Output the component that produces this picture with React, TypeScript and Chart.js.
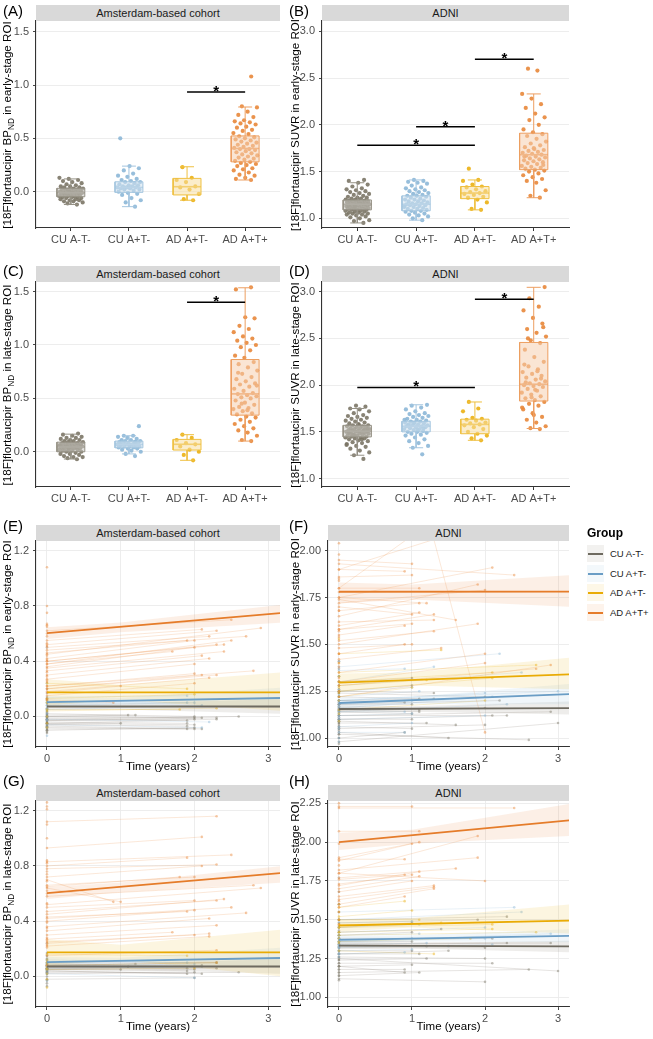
import React, { useEffect, useRef } from "react";
import { Chart, registerables } from "chart.js";

Chart.register(...registerables);
const FONT = '"Liberation Sans", Arial, Helvetica, sans-serif';
Chart.defaults.font.family = FONT;

// ---------------- categories & colours ----------------
const GROUPS = ["CU A-T-", "CU A+T-", "AD A+T-", "AD A+T+"];
const GROUP_COLORS = ["#7b7566", "#8cb7d7", "#ebb012", "#e8873a"];
const FIT_COLORS = ["#6e6a60", "#6a9dc5", "#e9ab05", "#e57c2a"];
const BOX_X_TICKS = [1, 2, 3, 4];
const TIME_TICKS = [0, 1, 2, 3];

// ---------------- (A) Amsterdam early-stage BPND ----------------
const A_CU_NEG = [-0.12, -0.11, -0.1, -0.09, -0.09, -0.08, -0.08, -0.07, -0.07, -0.06, -0.06, -0.05, -0.05, -0.05, -0.04, -0.04, -0.04, -0.03, -0.03, -0.03, -0.02, -0.02, -0.02, -0.01, -0.01, -0.01, -0.01, 0.0, 0.0, 0.0, 0.01, 0.01, 0.01, 0.02, 0.02, 0.02, 0.03, 0.03, 0.04, 0.04, 0.05, 0.05, 0.06, 0.07, 0.08, 0.09, 0.1, 0.11, 0.12, 0.13];
const A_CU_POS = [-0.14, -0.1, -0.08, -0.06, -0.03, -0.02, -0.01, 0.0, 0.01, 0.02, 0.02, 0.03, 0.03, 0.04, 0.04, 0.04, 0.05, 0.05, 0.06, 0.06, 0.07, 0.08, 0.09, 0.09, 0.1, 0.11, 0.12, 0.14, 0.15, 0.17, 0.2, 0.22, 0.24, 0.5];
const A_AD_NEG = [-0.08, -0.07, -0.02, 0.02, 0.04, 0.05, 0.09, 0.11, 0.13, 0.23];
const A_AD_POS = [1.08, 0.8, 0.79, 0.75, 0.72, 0.7, 0.67, 0.66, 0.65, 0.64, 0.63, 0.61, 0.6, 0.58, 0.57, 0.55, 0.54, 0.52, 0.51, 0.5, 0.49, 0.48, 0.47, 0.46, 0.45, 0.44, 0.43, 0.42, 0.41, 0.4, 0.4, 0.39, 0.38, 0.37, 0.36, 0.35, 0.34, 0.33, 0.32, 0.31, 0.3, 0.29, 0.28, 0.27, 0.26, 0.25, 0.24, 0.22, 0.21, 0.2, 0.18, 0.16, 0.15, 0.13, 0.12, 0.11];
// [whisker low, q1, median, q3, whisker high]
const A_BOX = [[-0.12, -0.047, -0.01, 0.032, 0.12], [-0.14, -0.006, 0.04, 0.093, 0.24], [-0.08, -0.03, 0.047, 0.125, 0.234], [0.11, 0.28, 0.405, 0.523, 0.794]];
const A_SIG = [[3, 4, 0.935]];
const A_Y_TICKS = [0, 0.5, 1, 1.5];

// ---------------- (B) ADNI early-stage SUVR ----------------
const B_CU_NEG = [0.95, 0.97, 0.98, 1.0, 1.01, 1.02, 1.03, 1.04, 1.04, 1.05, 1.05, 1.06, 1.06, 1.07, 1.07, 1.08, 1.08, 1.09, 1.09, 1.09, 1.1, 1.1, 1.1, 1.11, 1.11, 1.12, 1.12, 1.12, 1.13, 1.13, 1.13, 1.14, 1.14, 1.14, 1.15, 1.15, 1.15, 1.16, 1.16, 1.16, 1.17, 1.17, 1.17, 1.18, 1.18, 1.18, 1.19, 1.19, 1.2, 1.2, 1.21, 1.21, 1.22, 1.22, 1.23, 1.24, 1.25, 1.26, 1.27, 1.28, 1.29, 1.3, 1.31, 1.32, 1.34, 1.36, 1.38, 1.4, 1.41, 1.12];
const B_CU_POS = [0.98, 1.0, 1.02, 1.03, 1.04, 1.05, 1.06, 1.07, 1.08, 1.08, 1.09, 1.1, 1.1, 1.11, 1.12, 1.12, 1.13, 1.14, 1.14, 1.15, 1.15, 1.16, 1.16, 1.17, 1.18, 1.18, 1.19, 1.2, 1.2, 1.21, 1.22, 1.23, 1.24, 1.24, 1.25, 1.26, 1.27, 1.28, 1.29, 1.3, 1.31, 1.32, 1.33, 1.35, 1.37, 1.38, 1.39, 1.4, 1.41, 1.13];
const B_AD_NEG = [1.09, 1.1, 1.17, 1.2, 1.22, 1.23, 1.25, 1.26, 1.27, 1.28, 1.29, 1.31, 1.33, 1.34, 1.36, 1.4, 1.41, 1.53];
const B_AD_POS = [1.22, 1.24, 1.3, 1.38, 1.4, 1.42, 1.44, 1.46, 1.48, 1.5, 1.51, 1.52, 1.53, 1.54, 1.55, 1.56, 1.58, 1.59, 1.6, 1.61, 1.62, 1.63, 1.64, 1.65, 1.66, 1.67, 1.68, 1.69, 1.7, 1.71, 1.72, 1.73, 1.74, 1.76, 1.78, 1.8, 1.82, 1.85, 1.88, 1.9, 1.92, 1.95, 2.0, 2.05, 2.08, 2.12, 2.18, 2.22, 2.28, 2.33, 2.58, 2.6, 1.57, 1.75, 1.66];
const B_BOX = [[0.95, 1.09, 1.15, 1.196, 1.38], [0.98, 1.08, 1.15, 1.24, 1.41], [1.09, 1.21, 1.27, 1.34, 1.41], [1.22, 1.52, 1.68, 1.91, 2.33]];
const B_SIG = [[1, 3, 1.78], [2, 3, 1.98], [3, 4, 2.7]];
const B_Y_TICKS = [1, 1.5, 2, 2.5, 3];

// ---------------- (C) Amsterdam late-stage BPND ----------------
const C_CU_NEG = [-0.07, -0.06, -0.05, -0.05, -0.04, -0.03, -0.02, -0.02, -0.01, 0.0, 0.0, 0.01, 0.01, 0.02, 0.02, 0.02, 0.03, 0.03, 0.03, 0.04, 0.04, 0.04, 0.05, 0.05, 0.05, 0.05, 0.06, 0.06, 0.06, 0.07, 0.07, 0.07, 0.08, 0.08, 0.08, 0.09, 0.09, 0.1, 0.1, 0.11, 0.11, 0.12, 0.13, 0.13, 0.14, 0.15, 0.16, 0.17, 0.03, 0.06];
const C_CU_POS = [-0.04, -0.02, 0.0, 0.01, 0.02, 0.03, 0.03, 0.04, 0.04, 0.05, 0.05, 0.06, 0.06, 0.06, 0.07, 0.07, 0.07, 0.08, 0.08, 0.08, 0.09, 0.09, 0.1, 0.1, 0.11, 0.11, 0.12, 0.13, 0.14, 0.15, 0.15, 0.24, 0.05, 0.07, 0.09];
const C_AD_NEG = [-0.08, -0.03, 0.0, 0.02, 0.05, 0.07, 0.08, 0.11, 0.13, 0.16];
const C_AD_POS = [0.1, 0.11, 0.15, 0.18, 0.2, 0.22, 0.24, 0.26, 0.28, 0.3, 0.32, 0.33, 0.35, 0.36, 0.38, 0.4, 0.41, 0.42, 0.44, 0.46, 0.48, 0.5, 0.51, 0.52, 0.53, 0.54, 0.55, 0.57, 0.59, 0.61, 0.63, 0.64, 0.66, 0.68, 0.7, 0.73, 0.76, 0.79, 0.82, 0.84, 0.88, 0.9, 0.95, 0.98, 1.0, 1.02, 1.04, 1.06, 1.08, 1.12, 1.15, 1.18, 1.25, 1.26, 1.52, 1.54, 0.45, 0.62, 0.39, 0.74];
const C_BOX = [[-0.068, 0.0, 0.045, 0.09, 0.165], [-0.02, 0.037, 0.069, 0.1, 0.15], [-0.08, 0.016, 0.07, 0.116, 0.16], [0.1, 0.343, 0.542, 0.864, 1.536]];
const C_SIG = [[3, 4, 1.4]];
const C_Y_TICKS = [0, 0.5, 1, 1.5];

// ---------------- (D) ADNI late-stage SUVR ----------------
const D_CU_NEG = [1.21, 1.25, 1.28, 1.3, 1.32, 1.34, 1.35, 1.37, 1.38, 1.39, 1.4, 1.41, 1.42, 1.43, 1.43, 1.44, 1.44, 1.45, 1.45, 1.46, 1.46, 1.47, 1.47, 1.48, 1.48, 1.49, 1.49, 1.5, 1.5, 1.5, 1.51, 1.51, 1.51, 1.52, 1.52, 1.53, 1.53, 1.54, 1.54, 1.55, 1.55, 1.56, 1.56, 1.57, 1.57, 1.58, 1.59, 1.6, 1.61, 1.62, 1.63, 1.64, 1.65, 1.66, 1.67, 1.68, 1.7, 1.72, 1.74, 1.75, 1.77, 1.78, 1.36, 1.42, 1.47, 1.53, 1.58, 1.49, 1.52, 1.46];
const D_CU_POS = [1.26, 1.33, 1.35, 1.38, 1.4, 1.42, 1.44, 1.46, 1.47, 1.48, 1.49, 1.5, 1.5, 1.51, 1.52, 1.53, 1.53, 1.54, 1.55, 1.55, 1.56, 1.56, 1.57, 1.57, 1.58, 1.58, 1.59, 1.6, 1.6, 1.61, 1.61, 1.62, 1.63, 1.64, 1.65, 1.66, 1.67, 1.68, 1.69, 1.7, 1.72, 1.74, 1.76, 1.78, 1.79, 1.52, 1.57, 1.54, 1.59, 1.63];
const D_AD_NEG = [1.41, 1.43, 1.46, 1.48, 1.5, 1.53, 1.55, 1.57, 1.58, 1.59, 1.6, 1.62, 1.63, 1.64, 1.65, 1.72, 1.75, 1.82];
const D_AD_POS = [1.53, 1.54, 1.56, 1.6, 1.63, 1.66, 1.7, 1.74, 1.78, 1.8, 1.82, 1.84, 1.86, 1.88, 1.9, 1.92, 1.94, 1.96, 1.98, 1.99, 2.0, 2.01, 2.02, 2.04, 2.06, 2.08, 2.1, 2.12, 2.14, 2.17, 2.2, 2.25, 2.3, 2.38, 2.45, 2.48, 2.52, 2.56, 2.6, 2.66, 2.72, 2.8, 2.84, 2.93, 3.05, 1.95, 2.03, 2.07, 1.87, 1.76, 2.15, 2.5, 2.62, 1.68, 2.22];
const D_BOX = [[1.25, 1.446, 1.507, 1.57, 1.75], [1.33, 1.5, 1.56, 1.614, 1.79], [1.41, 1.48, 1.58, 1.636, 1.82], [1.536, 1.83, 2.01, 2.457, 3.047]];
const D_SIG = [[1, 3, 1.975], [3, 4, 2.92]];
const D_Y_TICKS = [1, 1.5, 2, 2.5, 3];

// ---------------- longitudinal panels ----------------
// each subject: [baseline value, t1, value1, t2, value2, ...]
const FIT_T = [0, 3.2];
const BAND_T = [0, 1.0, 3.2];

// (E) Amsterdam early-stage BPND
const E_TR_CU_NEG = [[-0.02, 1.9, -0.03], [-0.04, 1.9, -0.05], [-0.06, 1.9, -0.07], [-0.08, 2.0, -0.09], [-0.05, 2.0, -0.06], [-0.03, 2.0, -0.02], [-0.01, 2.0, -0.01], [0.0, 2.1, -0.01], [-0.07, 2.1, -0.09], [-0.03, 2.3, -0.01], [-0.05, 2.3, -0.02], [0.01, 1.1, 0.01], [0.0, 1.2, 0.01], [-0.06, 1.0, -0.05], [-0.02, 2.6, 0.0], [-0.09, 1.9, -0.09], [0.02, 2.0, 0.0], [-0.1, 2.0, -0.08], [0.13], [0.12], [0.1], [0.08], [0.06], [0.05], [0.04], [0.03], [0.02], [0.01], [0.0], [-0.01], [-0.02], [-0.04], [-0.05], [-0.07], [-0.08], [-0.1], [-0.11], [-0.12]];
const E_TR_CU_POS = [[0.14, 1.9, 0.15], [0.1, 1.9, 0.1], [0.08, 2.0, 0.1], [0.05, 2.1, 0.08], [-0.02, 2.2, -0.04], [-0.06, 2.1, -0.08], [0.5], [0.24], [0.2], [0.17], [0.12], [0.1], [0.06], [0.04], [0.02], [0.0], [-0.03], [-0.08], [-0.14]];
const E_TR_AD_NEG = [[0.24, 1.9, 0.2], [0.13, 2.0, 0.16], [0.05, 1.8, 0.05], [0.04, 2.3, 0.06], [0.12], [0.1], [0.0], [-0.05], [-0.08]];
const E_TR_AD_POS = [[0.62, 2.5, 0.7], [0.55, 2.1, 0.63], [0.52, 2.3, 0.62], [0.5, 2.2, 0.58], [0.48, 2.7, 0.58], [0.45, 2.9, 0.64], [0.46, 1.9, 0.55], [0.42, 2.0, 0.55], [0.4, 2.3, 0.52], [0.4, 2.4, 0.52], [0.38, 2.5, 0.55], [0.38, 1.7, 0.47], [0.36, 2.0, 0.5], [0.35, 2.4, 0.47], [0.33, 2.1, 0.44], [0.3, 2.2, 0.42], [0.27, 2.0, 0.38], [0.22, 2.8, 0.33], [0.22, 2.0, 0.31], [0.2, 2.3, 0.3], [0.18, 2.2, 0.28], [0.2, 2.1, 0.3], [0.15, 2.0, 0.24], [0.17, 1.0, 0.22], [0.12, 0.9, 0.1], [1.08], [0.8], [0.75], [0.67], [0.66], [0.65], [0.6], [0.58], [0.53], [0.51], [0.44], [0.41], [0.32], [0.29], [0.26], [0.25], [0.13]];
const E_FIT = [[0.072, 0.072], [0.104, 0.134], [0.174, 0.174], [0.603, 0.75]];
const E_BAND_LO = [[0.045, 0.05, 0.02], [0.07, 0.085, 0.06], [0.08, 0.12, 0.04], [0.56, 0.61, 0.68]];
const E_BAND_HI = [[0.1, 0.095, 0.125], [0.14, 0.135, 0.21], [0.27, 0.23, 0.32], [0.645, 0.68, 0.81]];
const E_Y_TICKS = [0, 0.4, 0.8, 1.2];

// (F) ADNI early-stage SUVR
const F_TR_CU_NEG = [[1.3, 1.0, 1.32], [1.25, 1.0, 1.28], [1.22, 1.1, 1.21], [1.2, 1.3, 1.21], [1.18, 1.0, 1.18], [1.16, 1.1, 1.15], [1.15, 2.0, 1.16], [1.14, 1.0, 1.13], [1.12, 2.1, 1.12], [1.1, 1.0, 1.1], [1.1, 2.3, 1.12], [1.08, 1.2, 1.08], [1.06, 1.0, 1.05], [1.05, 2.0, 1.07], [1.03, 1.5, 1.0], [1.02, 2.6, 0.99], [1.0, 0.9, 1.03], [0.98, 3.0, 1.08], [1.12, 2.9, 1.14], [1.18, 2.2, 1.2], [1.25, 1.3, 1.24], [1.2, 0.9, 1.19], [1.15, 1.1, 1.14], [1.09, 1.6, 1.07], [1.24, 2.0, 1.22], [1.41], [1.37], [1.33], [1.3], [1.28], [1.26], [1.24], [1.22], [1.2], [1.19], [1.18], [1.17], [1.16], [1.15], [1.14], [1.13], [1.12], [1.11], [1.1], [1.09], [1.08], [1.07], [1.06], [1.05], [1.04], [1.02], [1.0], [0.97], [0.95]];
const F_TR_CU_POS = [[1.38, 2.2, 1.45], [1.36, 0.9, 1.37], [1.3, 1.3, 1.38], [1.28, 2.5, 1.35], [1.25, 1.0, 1.27], [1.22, 1.1, 1.25], [1.2, 2.0, 1.24], [1.18, 1.0, 1.2], [1.16, 2.1, 1.22], [1.14, 0.9, 1.14], [1.12, 1.0, 1.13], [1.1, 2.0, 1.12], [1.06, 1.0, 1.08], [1.03, 0.9, 1.03], [1.2, 3.0, 1.25], [1.14, 2.3, 1.18], [1.41], [1.33], [1.26], [1.23], [1.19], [1.17], [1.15], [1.13], [1.11], [1.09], [1.05], [1.0], [0.98]];
const F_TR_AD_NEG = [[1.45, 1.4, 1.47], [1.35, 2.7, 1.39], [1.3, 2.1, 1.35], [1.28, 1.2, 1.31], [1.25, 2.1, 1.32], [1.22, 1.0, 1.27], [1.15, 2.0, 1.2], [1.53], [1.4], [1.33], [1.3], [1.27], [1.24], [1.2], [1.13], [1.09]];
const F_TR_AD_POS = [[1.95, 1.0, 1.93], [1.9, 0.9, 1.89], [1.86, 1.0, 1.87], [1.75, 2.1, 1.91], [1.93, 2.4, 1.87], [1.8, 1.1, 1.8], [1.65, 1.9, 1.82], [1.72, 2.0, 1.79], [1.68, 1.1, 1.72], [1.75, 1.2, 1.72], [1.6, 1.1, 1.67], [1.7, 1.0, 1.66], [1.58, 1.3, 1.66], [1.62, 1.3, 1.63], [1.74, 1.6, 1.63], [1.55, 0.9, 1.6], [1.58, 1.0, 1.61], [1.5, 1.9, 1.61], [1.52, 1.3, 1.57], [1.45, 0.9, 1.5], [1.48, 1.0, 1.5], [1.42, 1.4, 1.48], [1.35, 2.0, 1.45], [1.3, 2.0, 1.4], [1.28, 2.7, 1.37], [1.22, 2.9, 1.39], [1.8, 1.0, 2.08], [1.9, 1.3, 2.06, 2.0, 1.03], [2.04], [1.98], [1.85], [1.84], [1.78], [1.68], [1.57], [1.54], [1.45], [1.4], [1.38], [1.32], [1.25]];
const F_FIT = [[1.155, 1.16], [1.187, 1.235], [1.296, 1.341], [1.781, 1.782]];
const F_BAND_LO = [[1.135, 1.14, 1.125], [1.16, 1.18, 1.18], [1.245, 1.28, 1.26], [1.72, 1.74, 1.7]];
const F_BAND_HI = [[1.175, 1.17, 1.195], [1.215, 1.22, 1.29], [1.345, 1.35, 1.43], [1.83, 1.82, 1.87]];
const F_Y_TICKS = [1, 1.25, 1.5, 1.75, 2];

// (G) Amsterdam late-stage BPND
const G_TR_CU_NEG = [[0.05, 1.9, 0.04], [0.07, 1.9, 0.06], [0.03, 2.0, 0.03], [0.06, 2.0, 0.05], [0.09, 2.0, 0.07], [0.08, 2.1, 0.08], [0.04, 2.1, 0.02], [0.1, 2.3, 0.1], [0.06, 2.3, 0.06], [0.07, 1.1, 0.07], [0.08, 1.2, 0.09], [0.05, 1.0, 0.05], [0.02, 2.6, 0.03], [0.04, 1.9, 0.02], [-0.02, 2.0, -0.01], [0.17], [0.15], [0.13], [0.12], [0.1], [0.09], [0.08], [0.07], [0.06], [0.05], [0.04], [0.03], [0.02], [0.0], [-0.03], [-0.05], [-0.07]];
const G_TR_CU_POS = [[0.12, 1.9, 0.1], [0.08, 2.0, 0.09], [0.06, 2.1, 0.07], [0.02, 2.0, -0.01], [0.24], [0.15], [0.12], [0.1], [0.09], [0.07], [0.05], [0.04], [0.02], [-0.03]];
const G_TR_AD_NEG = [[0.16, 1.9, 0.15], [0.08, 2.3, 0.1], [0.05, 2.0, 0.06], [0.12], [0.1], [0.06], [0.02], [-0.02], [-0.08]];
const G_TR_AD_POS = [[1.12, 2.3, 1.16], [0.93, 2.1, 1.01], [0.8, 1.9, 0.86], [0.83, 2.5, 0.88], [0.78, 2.3, 0.81], [0.72, 2.1, 0.8], [0.65, 1.8, 0.72], [0.66, 2.0, 0.72], [0.58, 2.8, 0.66], [0.52, 2.9, 0.64], [0.7, 0.9, 0.54], [0.64, 1.0, 0.54], [0.5, 2.0, 0.55], [0.45, 2.4, 0.56], [0.47, 2.3, 0.55], [0.42, 2.5, 0.5], [0.43, 1.9, 0.47], [0.4, 2.0, 0.48], [0.36, 2.7, 0.46], [0.33, 2.2, 0.42], [0.3, 2.3, 0.37], [0.27, 1.7, 0.32], [0.25, 2.0, 0.3], [0.24, 2.2, 0.31], [0.22, 2.2, 0.29], [0.15, 2.3, 0.19], [0.08, 2.3, 0.1], [1.26], [1.23], [1.21], [1.1], [1.0], [0.84], [0.82], [0.76], [0.74], [0.69], [0.62], [0.6], [0.53], [0.39], [0.35], [0.28], [0.26], [0.23], [0.21]];
const G_FIT = [[0.072, 0.072], [0.104, 0.134], [0.174, 0.174], [0.603, 0.75]];
const G_BAND_LO = [[0.045, 0.05, 0.02], [0.07, 0.085, 0.06], [0.08, 0.12, 0.0], [0.56, 0.61, 0.68]];
const G_BAND_HI = [[0.1, 0.095, 0.125], [0.14, 0.135, 0.21], [0.27, 0.23, 0.34], [0.645, 0.68, 0.8]];
const G_Y_TICKS = [0, 0.4, 0.8, 1.2];

// (H) ADNI late-stage SUVR
const H_TR_CU_NEG = [[1.5, 2.3, 1.52], [1.48, 1.9, 1.5], [1.45, 1.0, 1.48], [1.42, 1.4, 1.44], [1.4, 1.0, 1.42], [1.38, 2.1, 1.38], [1.36, 1.0, 1.36], [1.34, 2.3, 1.35], [1.33, 1.2, 1.33], [1.32, 2.0, 1.32], [1.3, 1.0, 1.3], [1.28, 1.1, 1.28], [1.26, 2.0, 1.25], [1.24, 1.2, 1.25], [1.22, 2.1, 1.22], [1.2, 1.0, 1.21], [1.18, 0.9, 1.18], [1.16, 2.6, 1.18], [1.14, 1.1, 1.16], [1.12, 2.0, 1.1], [1.25, 3.0, 1.17], [1.2, 0.9, 1.16], [1.35, 2.9, 1.35], [1.28, 1.5, 1.3], [1.68], [1.6], [1.55], [1.5], [1.46], [1.43], [1.4], [1.38], [1.36], [1.34], [1.32], [1.3], [1.28], [1.26], [1.24], [1.22], [1.2], [1.18], [1.16], [1.14], [1.11]];
const H_TR_CU_POS = [[1.55, 2.4, 1.58], [1.5, 2.5, 1.55], [1.48, 1.0, 1.49], [1.45, 1.1, 1.47], [1.42, 2.0, 1.45], [1.4, 1.1, 1.41], [1.38, 1.0, 1.38], [1.36, 2.0, 1.38], [1.34, 1.2, 1.35], [1.32, 2.1, 1.34], [1.3, 1.0, 1.31], [1.28, 0.9, 1.29], [1.36, 2.9, 1.41], [1.33, 1.5, 1.33], [1.77], [1.6], [1.5], [1.45], [1.42], [1.4], [1.38], [1.36], [1.34], [1.32], [1.3], [1.28], [1.26]];
const H_TR_AD_NEG = [[1.58, 0.9, 1.62], [1.52, 1.0, 1.56], [1.47, 1.4, 1.48], [1.45, 2.1, 1.47], [1.42, 2.1, 1.44], [1.4, 2.7, 1.42], [1.36, 1.8, 1.38], [1.3, 1.3, 1.28], [1.5, 1.1, 1.5], [1.6], [1.55], [1.5], [1.45], [1.42], [1.38], [1.35]];
const H_TR_AD_POS = [[2.23, 1.0, 2.23], [2.22, 2.4, 2.22], [2.07, 1.1, 2.07], [1.9, 1.1, 2.0], [1.88, 1.0, 1.99], [1.8, 1.9, 2.04], [1.89, 0.9, 1.89], [1.82, 1.9, 1.9], [1.77, 1.6, 1.83], [1.76, 0.9, 1.79], [1.73, 1.0, 1.79], [1.72, 1.1, 1.81], [1.7, 1.1, 1.78], [1.68, 1.0, 1.75], [1.65, 1.3, 1.72], [1.63, 1.3, 1.71], [1.6, 1.3, 1.7], [1.8, 2.0, 1.75], [1.58, 0.9, 1.65], [2.25], [1.99], [1.85], [1.62], [1.55], [1.5], [1.47]];
const H_FIT = [[1.334, 1.328], [1.371, 1.397], [1.463, 1.495], [2.0, 2.142]];
const H_BAND_LO = [[1.31, 1.315, 1.29], [1.345, 1.36, 1.355], [1.425, 1.45, 1.41], [1.95, 1.99, 2.04]];
const H_BAND_HI = [[1.355, 1.35, 1.365], [1.395, 1.4, 1.44], [1.5, 1.51, 1.6], [2.06, 2.08, 2.25]];
const H_Y_TICKS = [1, 1.25, 1.5, 1.75, 2, 2.25];

// ---------------- helpers ----------------
function hexRgb(hex: string) {
  const n = parseInt(hex.slice(1), 16);
  return [(n >> 16) & 255, (n >> 8) & 255, n & 255];
}
function rgba(hex: string, a: number) {
  const [r, g, b] = hexRgb(hex);
  return `rgba(${r},${g},${b},${a})`;
}
function lighten(hex: string, t: number, a = 1) {
  const [r, g, b] = hexRgb(hex).map((c) => Math.round(c + (255 - c) * t));
  return `rgba(${r},${g},${b},${a})`;
}
function jitter(i: number) {
  return ((((i + 1) * 0.6180339887 + 0.13) % 1) - 0.5) * 0.42;
}

const BOX_HALF = 0.24;
const CAP_HALF = 0.12;
const PAD_TOP = 12;
const PAD_RIGHT = 4;
const TICK_FONT = 11;

function yScale(min: number, max: number, ticks: number[], dec: number, width: number) {
  return {
    type: "linear",
    min,
    max,
    afterBuildTicks: (s: any) => {
      s.ticks = ticks.map((v) => ({ value: v }));
    },
    afterFit: (s: any) => {
      s.width = width;
    },
    ticks: { callback: (v: any) => Number(v).toFixed(dec), color: "#4d4d4d", font: { size: TICK_FONT }, padding: 4 },
    grid: { color: "#ebebeb", lineWidth: 0.9, tickLength: 3, tickColor: "#333333" },
    border: { color: "#333333", width: 1.1 },
  };
}

function starPlugin(sigs: number[][]) {
  return {
    id: "sigStars",
    afterDatasetsDraw(chart: any) {
      const { ctx, scales } = chart;
      ctx.save();
      ctx.fillStyle = "#000";
      ctx.font = `bold 15px ${FONT}`;
      ctx.textAlign = "center";
      ctx.textBaseline = "alphabetic";
      sigs.forEach(([a, b, v]) => {
        ctx.fillText("*", scales.x.getPixelForValue((a + b) / 2), scales.y.getPixelForValue(v) + 4);
      });
      ctx.restore();
    },
  };
}

function boxConfig(groupsPts: number[][], boxes: number[][], sigs: number[][], yMin: number, yMax: number, yTicks: number[], dec: number, yw: number, xh: number) {
  const datasets: any[] = [];
  groupsPts.forEach((vals, gi) => {
    datasets.push({
      data: vals.map((v, i) => ({ x: gi + 1 + jitter(i), y: v })),
      showLine: false,
      pointRadius: 2.1,
      pointBackgroundColor: rgba(GROUP_COLORS[gi], 0.9),
      pointBorderWidth: 0,
      order: 30 - gi,
    });
  });
  boxes.forEach(([lo, q1, med, q3, hi], gi) => {
    const c = gi + 1;
    const col = GROUP_COLORS[gi];
    datasets.push({
      data: [{ x: c - BOX_HALF, y: q1 }, { x: c + BOX_HALF, y: q1 }, { x: c + BOX_HALF, y: q3 }, { x: c - BOX_HALF, y: q3 }, { x: c - BOX_HALF, y: q1 }],
      showLine: true,
      fill: "shape",
      backgroundColor: lighten(col, 0.6, 0.55),
      borderColor: lighten(col, 0.2),
      borderWidth: 1,
      pointRadius: 0,
      order: 20 - gi,
    });
    datasets.push({
      data: [
        { x: c, y: q3 }, { x: c, y: hi }, { x: c, y: null },
        { x: c - CAP_HALF, y: hi }, { x: c + CAP_HALF, y: hi }, { x: c, y: null },
        { x: c, y: q1 }, { x: c, y: lo }, { x: c, y: null },
        { x: c - CAP_HALF, y: lo }, { x: c + CAP_HALF, y: lo },
      ],
      showLine: true,
      borderColor: lighten(col, 0.2),
      borderWidth: 1,
      pointRadius: 0,
      order: 20 - gi,
    });
    datasets.push({
      data: [{ x: c - BOX_HALF, y: med }, { x: c + BOX_HALF, y: med }],
      showLine: true,
      borderColor: lighten(col, 0.15),
      borderWidth: 1.6,
      pointRadius: 0,
      order: 20 - gi,
    });
  });
  const sigData: any[] = [];
  sigs.forEach(([a, b, v]) => {
    sigData.push({ x: a, y: v }, { x: b, y: v }, { x: b, y: null });
  });
  datasets.push({ data: sigData, showLine: true, borderColor: "#000", borderWidth: 1.5, pointRadius: 0, order: 0 });

  return {
    type: "line",
    data: { datasets },
    options: {
      animation: false,
      responsive: false,
      events: [],
      layout: { padding: { top: PAD_TOP, right: PAD_RIGHT, left: 0, bottom: 0 } },
      plugins: { legend: { display: false }, tooltip: { enabled: false } },
      scales: {
        x: {
          type: "linear",
          min: 0.4,
          max: 4.6,
          afterBuildTicks: (s: any) => {
            s.ticks = BOX_X_TICKS.map((v) => ({ value: v }));
          },
          afterFit: (s: any) => {
            s.height = xh;
          },
          ticks: { callback: (v: any) => GROUPS[Number(v) - 1], color: "#4d4d4d", font: { size: TICK_FONT }, padding: 2, maxRotation: 0, autoSkip: false },
          grid: { drawOnChartArea: false, tickLength: 3, tickColor: "#333333" },
          border: { color: "#333333", width: 1.1 },
        },
        y: yScale(yMin, yMax, yTicks, dec, yw),
      },
    },
    plugins: [starPlugin(sigs)],
  };
}

function trajData(trajs: number[][]) {
  const out: any[] = [];
  trajs.forEach((tr) => {
    out.push({ x: 0, y: tr[0] });
    let lastX = 0;
    for (let k = 1; k + 1 < tr.length; k += 2) {
      out.push({ x: tr[k], y: tr[k + 1] });
      lastX = tr[k];
    }
    out.push({ x: lastX, y: null });
  });
  return out;
}

function timeConfig(trajs: number[][][], fit: number[][], bandLo: number[][], bandHi: number[][], yMin: number, yMax: number, yTicks: number[], dec: number, xMin: number, xMax: number, yw: number, xh: number) {
  const datasets: any[] = [];
  trajs.forEach((tr, gi) => {
    datasets.push({
      data: trajData(tr),
      showLine: true,
      borderColor: rgba(GROUP_COLORS[gi], 0.28),
      borderWidth: 0.7,
      pointRadius: 1.3,
      pointBackgroundColor: rgba(GROUP_COLORS[gi], 0.45),
      pointBorderWidth: 0,
      order: 30 - gi,
    });
  });
  for (let gi = 0; gi < 4; gi++) {
    datasets.push({
      data: BAND_T.map((t, k) => ({ x: t, y: bandLo[gi][k] })),
      showLine: true,
      borderWidth: 0,
      borderColor: "rgba(0,0,0,0)",
      pointRadius: 0,
      fill: false,
      order: 20 - gi,
    });
    datasets.push({
      data: BAND_T.map((t, k) => ({ x: t, y: bandHi[gi][k] })),
      showLine: true,
      borderWidth: 0,
      borderColor: "rgba(0,0,0,0)",
      backgroundColor: rgba(GROUP_COLORS[gi], 0.13),
      pointRadius: 0,
      fill: "-1",
      order: 20 - gi,
    });
  }
  for (let gi = 0; gi < 4; gi++) {
    datasets.push({
      data: FIT_T.map((t, k) => ({ x: t, y: fit[gi][k] })),
      showLine: true,
      borderColor: FIT_COLORS[gi],
      borderWidth: 1.8,
      pointRadius: 0,
      order: 3 - gi,
    });
  }
  return {
    type: "line",
    data: { datasets },
    options: {
      animation: false,
      responsive: false,
      events: [],
      layout: { padding: { top: PAD_TOP, right: PAD_RIGHT, left: 0, bottom: 0 } },
      plugins: { legend: { display: false }, tooltip: { enabled: false } },
      scales: {
        x: {
          type: "linear",
          min: xMin,
          max: xMax,
          afterBuildTicks: (s: any) => {
            s.ticks = TIME_TICKS.map((v) => ({ value: v }));
          },
          afterFit: (s: any) => {
            s.height = xh;
          },
          ticks: { callback: (v: any) => String(v), color: "#4d4d4d", font: { size: TICK_FONT }, padding: 2, maxRotation: 0, autoSkip: false },
          grid: { color: "#ebebeb", lineWidth: 0.9, tickLength: 3, tickColor: "#333333" },
          border: { color: "#333333", width: 1.1 },
          title: { display: true, text: "Time (years)", color: "#000", font: { size: 11.5 }, padding: { top: 0, bottom: 0 } },
        },
        y: yScale(yMin, yMax, yTicks, dec, yw),
      },
    },
  };
}

// ---------------- layout ----------------
const LEFT_CANVAS = 0;
const RIGHT_CANVAS = 296;
const BOX_XH = 20;
const TIME_XH = 27;

type Spec = { key: string; L: number; R: number; T: number; B: number; cl: number; xh: number; build: (yw: number, xh: number) => any };

const SPECS: Spec[] = [
  { key: "A", L: 36, R: 280, T: 21, B: 228, cl: LEFT_CANVAS, xh: BOX_XH, build: (yw, xh) => boxConfig([A_CU_NEG, A_CU_POS, A_AD_NEG, A_AD_POS], A_BOX, A_SIG, -0.34, 1.6, A_Y_TICKS, 1, yw, xh) },
  { key: "B", L: 322, R: 569, T: 21, B: 228, cl: RIGHT_CANVAS, xh: BOX_XH, build: (yw, xh) => boxConfig([B_CU_NEG, B_CU_POS, B_AD_NEG, B_AD_POS], B_BOX, B_SIG, 0.896, 3.11, B_Y_TICKS, 1, yw, xh) },
  { key: "C", L: 36, R: 280, T: 282, B: 487, cl: LEFT_CANVAS, xh: BOX_XH, build: (yw, xh) => boxConfig([C_CU_NEG, C_CU_POS, C_AD_NEG, C_AD_POS], C_BOX, C_SIG, -0.33, 1.59, C_Y_TICKS, 1, yw, xh) },
  { key: "D", L: 322, R: 569, T: 282, B: 487, cl: RIGHT_CANVAS, xh: BOX_XH, build: (yw, xh) => boxConfig([D_CU_NEG, D_CU_POS, D_AD_NEG, D_AD_POS], D_BOX, D_SIG, 0.91, 3.104, D_Y_TICKS, 1, yw, xh) },
  { key: "E", L: 36, R: 280, T: 541, B: 747, cl: LEFT_CANVAS, xh: TIME_XH, build: (yw, xh) => timeConfig([E_TR_CU_NEG, E_TR_CU_POS, E_TR_AD_NEG, E_TR_AD_POS], E_FIT, E_BAND_LO, E_BAND_HI, -0.221, 1.27, E_Y_TICKS, 1, -0.149, 3.16, yw, xh) },
  { key: "F", L: 328, R: 569, T: 541, B: 747, cl: RIGHT_CANVAS, xh: TIME_XH, build: (yw, xh) => timeConfig([F_TR_CU_NEG, F_TR_CU_POS, F_TR_AD_NEG, F_TR_AD_POS], F_FIT, F_BAND_LO, F_BAND_HI, 0.952, 2.052, F_Y_TICKS, 2, -0.15, 3.15, yw, xh) },
  { key: "G", L: 36, R: 280, T: 801, B: 1007, cl: LEFT_CANVAS, xh: TIME_XH, build: (yw, xh) => timeConfig([G_TR_CU_NEG, G_TR_CU_POS, G_TR_AD_NEG, G_TR_AD_POS], G_FIT, G_BAND_LO, G_BAND_HI, -0.221, 1.27, G_Y_TICKS, 1, -0.149, 3.16, yw, xh) },
  { key: "H", L: 328, R: 569, T: 801, B: 1007, cl: RIGHT_CANVAS, xh: TIME_XH, build: (yw, xh) => timeConfig([H_TR_CU_NEG, H_TR_CU_POS, H_TR_AD_NEG, H_TR_AD_POS], H_FIT, H_BAND_LO, H_BAND_HI, 0.938, 2.265, H_Y_TICKS, 2, -0.15, 3.15, yw, xh) },
];

const STRIPS = [
  { key: "A", text: "Amsterdam-based cohort" },
  { key: "B", text: "ADNI" },
  { key: "C", text: "Amsterdam-based cohort" },
  { key: "D", text: "ADNI" },
  { key: "E", text: "Amsterdam-based cohort" },
  { key: "F", text: "ADNI" },
  { key: "G", text: "Amsterdam-based cohort" },
  { key: "H", text: "ADNI" },
];

const LETTERS = [
  { t: "(A)", x: 3, y: 3 },
  { t: "(B)", x: 289, y: 3 },
  { t: "(C)", x: 3, y: 263 },
  { t: "(D)", x: 289, y: 263 },
  { t: "(E)", x: 3, y: 518 },
  { t: "(F)", x: 289, y: 518 },
  { t: "(G)", x: 3, y: 773 },
  { t: "(H)", x: 289, y: 773 },
];

const YTITLES = [
  { key: "A", bp: true, stage: "early" },
  { key: "B", bp: false, stage: "early" },
  { key: "C", bp: true, stage: "late" },
  { key: "D", bp: false, stage: "late" },
  { key: "E", bp: true, stage: "early" },
  { key: "F", bp: false, stage: "early" },
  { key: "G", bp: true, stage: "late" },
  { key: "H", bp: false, stage: "late" },
];

function ChartCanvas({ spec }: { spec: Spec }) {
  const ref = useRef<HTMLCanvasElement>(null);
  const left = spec.cl;
  const top = spec.T - PAD_TOP;
  const w = spec.R + PAD_RIGHT - left;
  const h = spec.B + spec.xh - top;
  useEffect(() => {
    const chart = new Chart(ref.current as HTMLCanvasElement, spec.build(spec.L - left, spec.xh));
    return () => chart.destroy();
  }, []);
  return <canvas ref={ref} width={w} height={h} style={{ position: "absolute", left, top, width: w, height: h }} />;
}

export default function App() {
  const specOf = (k: string) => SPECS.find((s) => s.key === k) as Spec;
  return (
    <div style={{ position: "absolute", left: 0, top: 0, width: 653, height: 1039, background: "#fff", fontFamily: FONT, overflow: "hidden" }}>
      {SPECS.map((s) => (
        <ChartCanvas key={s.key} spec={s} />
      ))}
      {STRIPS.map((st) => {
        const s = specOf(st.key);
        return (
          <div key={"s" + st.key} style={{ position: "absolute", left: s.L, top: s.T - 16, width: s.R - s.L, height: 16, background: "#d9d9d9", color: "#1a1a1a", fontSize: 11, lineHeight: "16px", textAlign: "center" }}>
            {st.text}
          </div>
        );
      })}
      {LETTERS.map((l) => (
        <div key={l.t} style={{ position: "absolute", left: l.x, top: l.y, fontSize: 15, lineHeight: "15px", color: "#000" }}>
          {l.t}
        </div>
      ))}
      {YTITLES.map((yt) => {
        const s = specOf(yt.key);
        const cx = s.cl === LEFT_CANVAS ? 7 : 295;
        const cy = (s.T + s.B) / 2;
        const W = 280;
        const H = 14;
        return (
          <div key={"y" + yt.key} style={{ position: "absolute", left: cx - W / 2, top: cy - H / 2, width: W, height: H, lineHeight: H + "px", fontSize: 11.6, textAlign: "center", whiteSpace: "nowrap", transform: "rotate(-90deg)", color: "#000" }}>
            {yt.bp ? (
              <>
                [18F]flortaucipir BP<sub style={{ fontSize: "0.72em", verticalAlign: "-0.3em", lineHeight: 0 }}>ND</sub> in {yt.stage}-stage ROI
              </>
            ) : (
              <>[18F]flortaucipir SUVR in {yt.stage}-stage ROI</>
            )}
          </div>
        );
      })}
      <div style={{ position: "absolute", left: 587, top: 525, fontSize: 12, fontWeight: "bold", lineHeight: "16px", color: "#000" }}>Group</div>
      {GROUPS.map((g, gi) => {
        const top = [545, 565, 584, 604][gi];
        return (
          <div key={g} style={{ position: "absolute", left: 587, top, height: 17 }}>
            <div style={{ position: "absolute", left: 0, top: 0, width: 17, height: 17, background: rgba(GROUP_COLORS[gi], 0.1) }} />
            <div style={{ position: "absolute", left: 1, top: 7.5, width: 15, height: 2, background: FIT_COLORS[gi] }} />
            <div style={{ position: "absolute", left: 23, top: 0, lineHeight: "17px", fontSize: 9.5, whiteSpace: "nowrap", color: "#1a1a1a" }}>{g}</div>
          </div>
        );
      })}
    </div>
  );
}
